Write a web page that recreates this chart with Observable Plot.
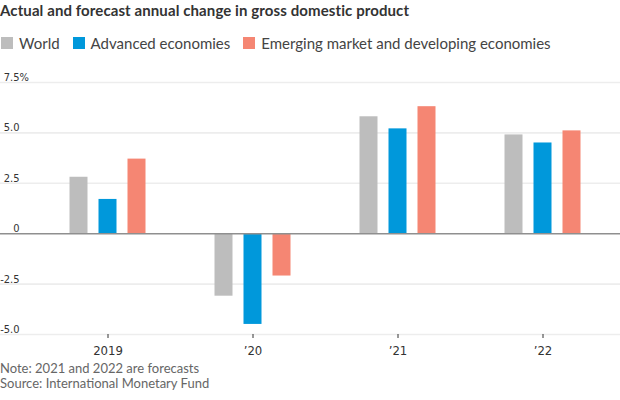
<!DOCTYPE html>
<html>
<head>
<meta charset="utf-8">
<script src="https://cdn.jsdelivr.net/npm/d3@7"></script>
<script src="https://cdn.jsdelivr.net/npm/@observablehq/plot@0.6"></script>
<style>
  html, body { margin: 0; padding: 0; background: #fff; }
  #wrap { position: relative; width: 620px; height: 400px; overflow: hidden; }
  #title { position: absolute; left: 0; top: 0; font: bold 15px Lato, sans-serif; letter-spacing: 0.1px; line-height: 20px; color: #333; white-space: nowrap; }
  #legend { position: absolute; left: 1px; top: 33px; height: 20px; display: flex; align-items: center; font: 15px Lato, sans-serif; line-height: 20px; color: #444; white-space: nowrap; }
  #legend .item { display: flex; align-items: center; margin-right: 13px; }
  #legend .sw { width: 12px; height: 12px; margin-right: 6px; }
  #chart { position: absolute; left: 0; top: 60px; }
  #foot { position: absolute; left: 0; top: 360.5px; font: 13px Lato, sans-serif; line-height: 15px; color: #666; white-space: nowrap; }
</style>
</head>
<body>
<div id="wrap">
  <div id="title">Actual and forecast annual change in gross domestic product</div>
  <div id="legend"></div>
  <div id="chart"></div>
  <div id="foot"><div>Note: 2021 and 2022 are forecasts</div><div>Source: International Monetary Fund</div></div>
</div>
<script>
const years = ["2019", "\u201920", "\u201921", "\u201922"];
const series = ["World", "Advanced economies", "Emerging market and developing economies"];
const world = [2.8, -3.1, 5.8, 4.9];
const advanced = [1.7, -4.5, 5.2, 4.5];
const emerging = [3.7, -2.1, 6.3, 5.1];
const colors = ["#bdbdbd", "#0098db", "#f58673"];
const yTicks = [-5, -2.5, 0, 2.5, 5, 7.5];
const yTickLabels = ["-5.0", "-2.5", "0", "2.5", "5.0", "7.5"];

// legend
const legend = document.getElementById("legend");
series.forEach((s, i) => {
  const item = document.createElement("div");
  item.className = "item";
  const sw = document.createElement("div");
  sw.className = "sw";
  sw.style.background = colors[i];
  const t = document.createElement("span");
  t.textContent = s;
  item.appendChild(sw);
  item.appendChild(t);
  legend.appendChild(item);
});

const valuesBySeries = [world, advanced, emerging];
const rows = [];
series.forEach((s, si) => {
  years.forEach((y, yi) => rows.push({ year: y, series: s, value: valuesBySeries[si][yi] }));
});

// bar placement inside each year band (band = 145px)
const insets = [[34.5, 92.5], [63.5, 63.5], [92.5, 34.5]];

const narrow = "'Liberation Sans Narrow', 'DejaVu Sans Condensed', sans-serif";

const chart = Plot.plot({
  width: 620,
  height: 300,
  marginLeft: 0,
  marginRight: 0,
  marginTop: 22,
  marginBottom: 26,
  style: { background: "transparent", overflow: "visible" },
  x: { domain: years, range: [34.5, 614.5], padding: 0, label: null },
  y: { domain: [-5, 7.5], axis: null, label: null },
  color: { domain: series, range: colors },
  marks: [
    Plot.ruleY(yTicks.filter(d => d !== 0), { stroke: "#ededed", strokeWidth: 1.6 }),
    ...series.map((s, i) => Plot.barY(rows.filter(r => r.series === s), {
      x: "year", y: "value", fill: "series",
      insetLeft: insets[i][0], insetRight: insets[i][1]
    })),
    Plot.ruleY([0], { stroke: "#8f8f8f", strokeWidth: 1.5 }),
    Plot.axisX({ tickSize: 4, tickPadding: 7, stroke: "#333", color: "#333", fontSize: 13, fontFamily: narrow, label: null }),
    Plot.text(yTicks, { y: d => d, text: (d, i) => yTickLabels[i], frameAnchor: "left", dx: 19, dy: -5, textAnchor: "end", fill: "#333", fontSize: 11, fontFamily: narrow }),
    Plot.text([7.5], { y: d => d, text: () => "%", frameAnchor: "left", dx: 19, dy: -5, textAnchor: "start", fill: "#333", fontSize: 11, fontFamily: narrow })
  ]
});
document.getElementById("chart").appendChild(chart);
</script>
</body>
</html>
